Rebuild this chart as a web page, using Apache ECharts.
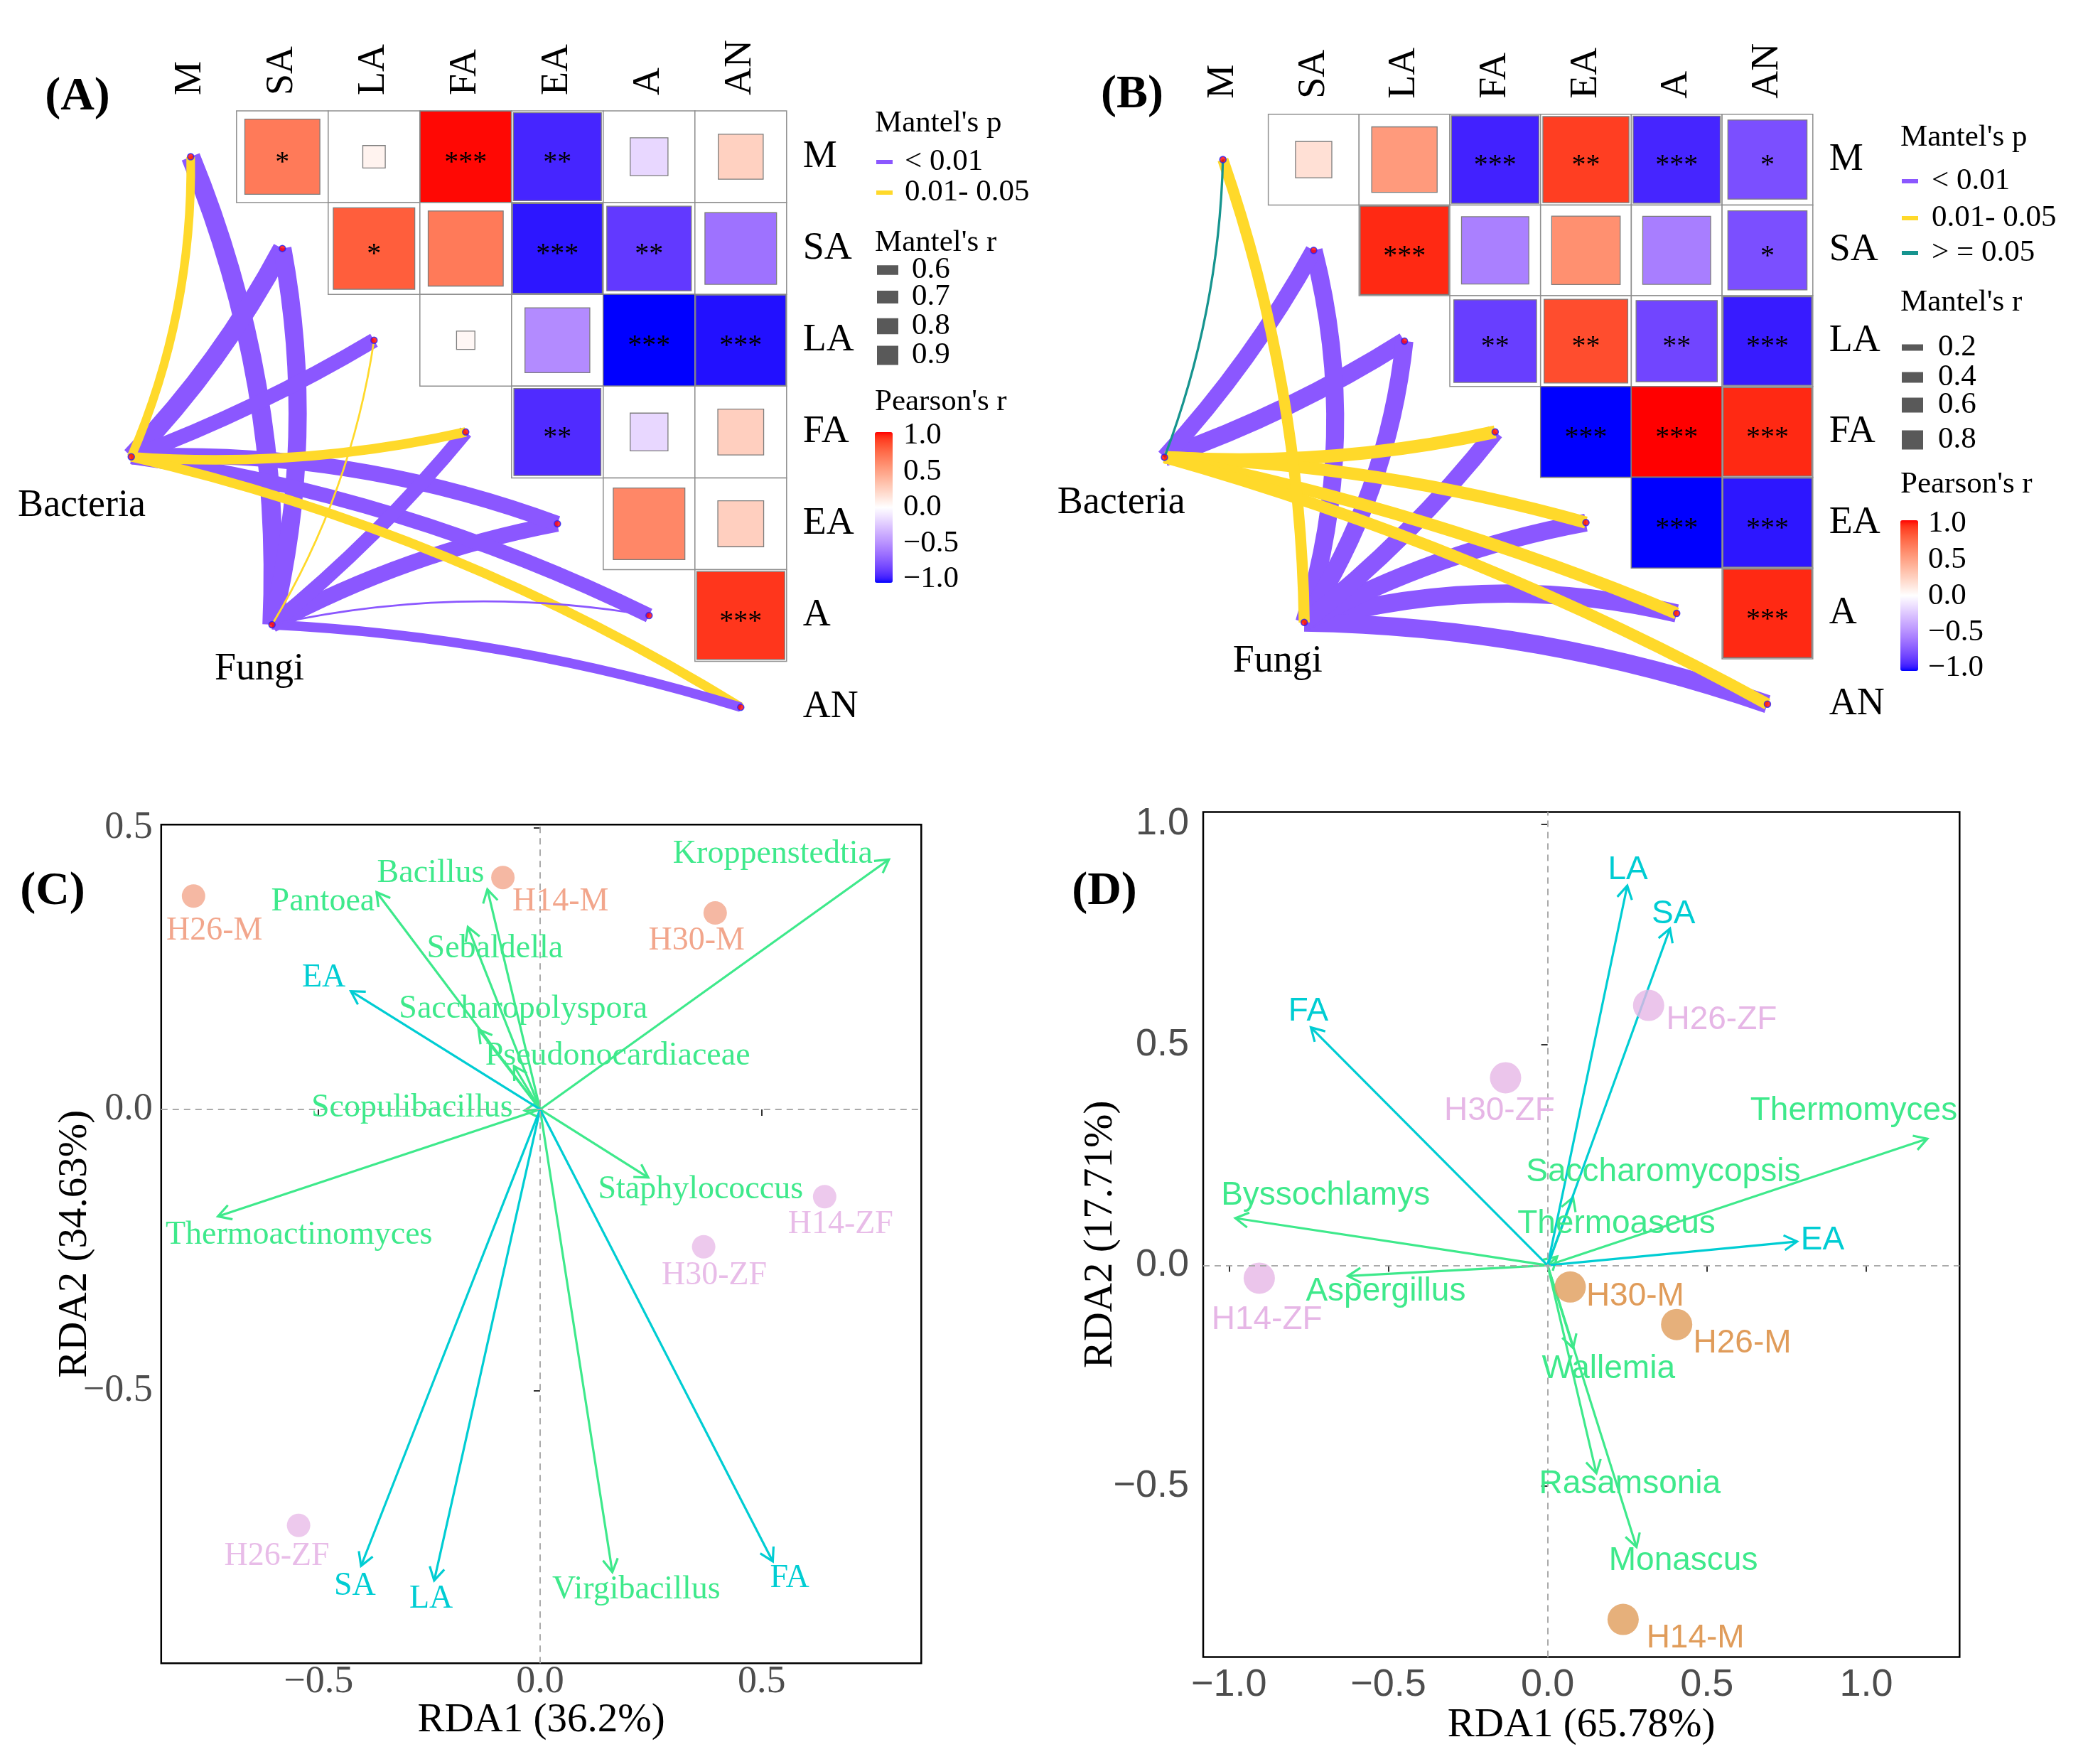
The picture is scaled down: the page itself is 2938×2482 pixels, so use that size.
<!DOCTYPE html>
<html>
<head>
<meta charset="utf-8">
<script src="https://cdn.jsdelivr.net/npm/echarts@6/dist/echarts.min.js"></script>
<style>
html,body{margin:0;padding:0;background:#fff;}
#chart{width:2938px;height:2482px;}
</style>
</head>
<body>
<div id="chart"></div>
<script>
// ---------------- DATA ----------------
const envVars = ['M', 'SA', 'LA', 'FA', 'EA', 'A', 'AN'];

// Pearson's r between environmental factors (upper triangle; row = envVars[i], col = envVars[j])
const pearsonA = [
  [null, 0.67, 0.06, 0.99, -0.92, -0.17, 0.24],
  [null, null, 0.79, 0.67, -0.96, -0.85, -0.61],
  [null, null, null, 0.04, -0.50, -1.00, -0.97],
  [null, null, null, null, -0.90, -0.17, 0.25],
  [null, null, null, null, null, 0.61, 0.25],
  [null, null, null, null, null, null, 0.92],
  [null, null, null, null, null, null, null]
];
const signifA = [
  ['', '*', '', '***', '**', '', ''],
  ['', '', '*', '', '***', '**', ''],
  ['', '', '', '', '', '***', '***'],
  ['', '', '', '', '**', '', ''],
  ['', '', '', '', '', '', ''],
  ['', '', '', '', '', '', '***'],
  ['', '', '', '', '', '', '']
];
const pearsonB = [
  [null, 0.16, 0.52, -0.93, 0.90, -0.92, -0.76],
  [null, null, 0.95, -0.55, 0.57, -0.56, -0.76],
  [null, null, null, -0.83, 0.85, -0.80, -0.95],
  [null, null, null, null, -1.00, 1.00, 0.95],
  [null, null, null, null, null, -1.00, -0.96],
  [null, null, null, null, null, null, 0.95],
  [null, null, null, null, null, null, null]
];
const signifB = [
  ['', '', '', '***', '**', '***', '*'],
  ['', '', '***', '', '', '', '*'],
  ['', '', '', '**', '**', '**', '***'],
  ['', '', '', '', '***', '***', '***'],
  ['', '', '', '', '', '***', '***'],
  ['', '', '', '', '', '', '***'],
  ['', '', '', '', '', '', '']
];

// Mantel tests (order of envVars)
const mantelA_bacteria_r = [0.57, 0.90, 0.76, 0.60, 0.79, 0.76, 0.60];
const mantelA_bacteria_p = ['0.01-0.05', '<0.01', '<0.01', '0.01-0.05', '<0.01', '<0.01', '0.01-0.05'];
const mantelA_fungi_r    = [0.90, 0.87, 0.36, 0.74, 0.80, 0.36, 0.60];
const mantelA_fungi_p    = ['<0.01', '<0.01', '0.01-0.05', '<0.01', '<0.01', '<0.01', '<0.01'];
const mantelB_bacteria_r = [0.01, 0.68, 0.75, 0.50, 0.47, 0.47, 0.45];
const mantelB_bacteria_p = ['>=0.05', '<0.01', '<0.01', '0.01-0.05', '0.01-0.05', '0.01-0.05', '0.01-0.05'];
const mantelB_fungi_r    = [0.42, 0.74, 0.74, 0.72, 0.74, 0.76, 0.76];
const mantelB_fungi_p    = ['0.01-0.05', '<0.01', '<0.01', '<0.01', '<0.01', '<0.01', '<0.01'];

const mantelLegendA = [0.6, 0.7, 0.8, 0.9];
const mantelLegendB = [0.2, 0.4, 0.6, 0.8];
const pearsonTicks = [1.0, 0.5, 0.0, -0.5, -1.0];

// Panel C (bacteria RDA)
const sampleNamesC = ['H26-M', 'H14-M', 'H30-M', 'H14-ZF', 'H30-ZF', 'H26-ZF'];
const sampleGroupC = ['M', 'M', 'M', 'ZF', 'ZF', 'ZF'];
const rda1C = [-0.782, -0.084, 0.395, 0.642, 0.369, -0.545];
const rda2C = [0.379, 0.412, 0.349, -0.155, -0.244, -0.739];
const envNamesC = ['EA', 'SA', 'LA', 'FA'];
const envRda1C = [-0.427, -0.404, -0.239, 0.525];
const envRda2C = [0.210, -0.811, -0.837, -0.803];
const speciesNamesC = ['Kroppenstedtia', 'Pantoea', 'Bacillus', 'Sebaldella', 'Saccharopolyspora',
  'Pseudonocardiaceae', 'Scopulibacillus', 'Thermoactinomyces', 'Staphylococcus', 'Virgibacillus'];
const speciesRda1C = [0.787, -0.369, -0.119, -0.163, -0.139, -0.059, -0.035, -0.727, 0.244, 0.163];
const speciesRda2C = [0.444, 0.386, 0.391, 0.324, 0.142, 0.077, -0.002, -0.190, -0.121, -0.822];
const ticksC = [-0.5, 0.0, 0.5];

// Panel D (fungi RDA)
const sampleNamesD = ['H26-ZF', 'H30-ZF', 'H14-ZF', 'H30-M', 'H26-M', 'H14-M'];
const sampleGroupD = ['ZF', 'ZF', 'ZF', 'M', 'M', 'M'];
const rda1D = [0.317, -0.132, -0.905, 0.071, 0.405, 0.237];
const rda2D = [0.589, 0.425, -0.029, -0.049, -0.134, -0.802];
const envNamesD = ['LA', 'SA', 'FA', 'EA'];
const envRda1D = [0.250, 0.384, -0.743, 0.783];
const envRda2D = [0.860, 0.763, 0.539, 0.054];
const speciesNamesD = ['Thermomyces', 'Saccharomycopsis', 'Thermoascus', 'Byssochlamys', 'Aspergillus',
  'Wallemia', 'Rasamsonia', 'Monascus'];
const speciesRda1D = [1.192, 0.080, 0.030, -0.980, -0.627, 0.080, 0.153, 0.279];
const speciesRda2D = [0.287, 0.154, 0.020, 0.107, -0.024, -0.187, -0.471, -0.638];
const ticksDx = [-1.0, -0.5, 0.0, 0.5, 1.0];
const ticksDy = [-0.5, 0.0, 0.5, 1.0];

// ---------------- LAYOUT / STYLE (not data) ----------------
const SERIF = '"Liberation Serif","DejaVu Serif","Times New Roman",serif';
const SANS = '"Liberation Sans",Arial,"DejaVu Sans",sans-serif';
const pColors = {'<0.01': '#8B57FF', '0.01-0.05': '#FFD92A', '>=0.05': '#16948F'};
const groupColorC = {M: '#F2A68C', ZF: '#E8BCE8'};
const groupColorD = {M: '#E09C5A', ZF: '#E6B6E6'};
const envColor = '#00CDD3';
const specColor = '#3EE98B';

// node positions in the correlation-grid units (column/row index space)
const nodePosA = {Bacteria: [-0.648, 3.27], Fungi: [0.887, 5.10]};
const nodePosB = {Bacteria: [-0.644, 3.28], Fungi: [0.896, 5.10]};
const nodeLabelA = {Bacteria: [-1.188, 3.807], Fungi: [0.749, 5.589]};
const nodeLabelB = {Bacteria: [-1.12, 3.785], Fungi: [0.603, 5.531]};
const curvA_bact = [-0.107, -0.07, -0.045, -0.074, 0.10, 0.08, 0.082];
const curvA_fungi = [-0.11, -0.107, -0.10, -0.05, 0.077, 0.098, 0.063];
const curvB_bact = [-0.085, -0.06, -0.056, -0.07, 0.06, 0.05, 0.057];
const curvB_fungi = [-0.08, -0.14, -0.12, -0.06, 0.08, 0.13, 0.08];

// label anchors (data coordinates) for RDA text
const sampleLabelC = [[-0.735, 0.317], [0.046, 0.369], [0.353, 0.299], [0.678, -0.205], [0.393, -0.296], [-0.594, -0.794]];
const envLabelC = [[-0.488, 0.234], [-0.418, -0.847], [-0.246, -0.870], [0.563, -0.833]];
const speciesLabelC = [[0.525, 0.453], [-0.490, 0.369], [-0.247, 0.419], [-0.102, 0.285], [-0.038, 0.178],
  [0.175, 0.095], [-0.289, 0.002], [-0.544, -0.224], [0.362, -0.143], [0.217, -0.853]];
const sampleLabelD = [[0.546, 0.556], [-0.151, 0.350], [-0.881, -0.124], [0.275, -0.070], [0.611, -0.177], [0.464, -0.845]];
const envLabelD = [[0.252, 0.896], [0.395, 0.796], [-0.751, 0.575], [0.863, 0.057]];
const speciesLabelD = [[0.961, 0.350], [0.363, 0.211], [0.216, 0.093], [-0.697, 0.158], [-0.508, -0.060],
  [0.191, -0.235], [0.258, -0.495], [0.426, -0.670]];

function widthA(r) { return Math.max(2.5, 45 * r - 13.5); }
function widthB(r) { return Math.max(2.5, 3 + 30 * r); }

// ---- Lab colour interpolation (blue - white - red, like ggplot gradient2) ----
function s2l(c) { c /= 255; return c <= 0.04045 ? c / 12.92 : Math.pow((c + 0.055) / 1.055, 2.4); }
function l2s(c) { c = c <= 0.0031308 ? 12.92 * c : 1.055 * Math.pow(c, 1 / 2.4) - 0.055; return Math.round(Math.max(0, Math.min(1, c)) * 255); }
function rgb2lab(rgb) {
  const R = s2l(rgb[0]), G = s2l(rgb[1]), B = s2l(rgb[2]);
  const X = (0.4124 * R + 0.3576 * G + 0.1805 * B) / 0.95047;
  const Y = (0.2126 * R + 0.7152 * G + 0.0722 * B);
  const Z = (0.0193 * R + 0.1192 * G + 0.9505 * B) / 1.08883;
  const f = t => t > 0.008856 ? Math.cbrt(t) : (7.787 * t + 16 / 116);
  const fx = f(X), fy = f(Y), fz = f(Z);
  return [116 * fy - 16, 500 * (fx - fy), 200 * (fy - fz)];
}
function lab2rgb(lab) {
  const fy = (lab[0] + 16) / 116, fx = fy + lab[1] / 500, fz = fy - lab[2] / 200;
  const fi = t => t * t * t > 0.008856 ? t * t * t : (t - 16 / 116) / 7.787;
  const X = fi(fx) * 0.95047, Y = fi(fy), Z = fi(fz) * 1.08883;
  const R = 3.2406 * X - 1.5372 * Y - 0.4986 * Z;
  const G = -0.9689 * X + 1.8758 * Y + 0.0415 * Z;
  const B = 0.0557 * X - 0.2040 * Y + 1.0570 * Z;
  return 'rgb(' + l2s(R) + ',' + l2s(G) + ',' + l2s(B) + ')';
}
const labBlue = rgb2lab([0, 0, 255]), labWhite = rgb2lab([255, 255, 255]), labRed = rgb2lab([255, 0, 0]);
const gradientStops = [];
for (let k = 0; k <= 40; k++) {
  const v = -1 + k / 20;
  let a, b, t;
  if (v < 0) { a = labBlue; b = labWhite; t = v + 1; } else { a = labWhite; b = labRed; t = v; }
  gradientStops.push(lab2rgb([a[0] + (b[0] - a[0]) * t, a[1] + (b[1] - a[1]) * t, a[2] + (b[2] - a[2]) * t]));
}

// ---------------- builders ----------------
function cellData(mat) {
  const out = [];
  for (let i = 0; i < mat.length; i++) for (let j = 0; j < mat[i].length; j++) {
    if (mat[i][j] !== null) out.push([j, i, mat[i][j]]);
  }
  return out;
}
function cellRenderer(sig) {
  return function (params, api) {
    const x = api.value(0), y = api.value(1), r = api.value(2);
    const c = api.coord([x, y]);
    const sz = api.size([1, 1]);
    const w = sz[0], h = sz[1];
    const f = Math.sqrt(Math.min(1, Math.abs(r)));
    const iw = w * f, ih = h * f;
    const s = sig[y][x];
    const children = [
      {type: 'rect', shape: {x: c[0] - w / 2, y: c[1] - h / 2, width: w, height: h},
        style: {fill: '#ffffff', stroke: '#8f8f8f', lineWidth: 1.5}},
      {type: 'rect', shape: {x: c[0] - iw / 2, y: c[1] - ih / 2, width: iw, height: ih},
        style: {fill: api.visual('color'), stroke: '#7d7d7d', lineWidth: 1.3}}
    ];
    if (s) children.push({type: 'text', style: {text: s, x: c[0], y: c[1] + 9, fill: '#000',
      font: '40px ' + SERIF, align: 'center', verticalAlign: 'middle', textAlign: 'center', textVerticalAlign: 'middle'}});
    return {type: 'group', children: children};
  };
}
function linkData(nodes, bR, bP, fR, fP, cB, cF, wfn) {
  const out = [];
  envVars.forEach(function (v, i) {
    out.push({coords: [nodes.Bacteria, [i, i]], lineStyle: {width: wfn(bR[i]), color: pColors[bP[i]], curveness: cB[i]}});
    out.push({coords: [nodes.Fungi, [i, i]], lineStyle: {width: wfn(fR[i]), color: pColors[fP[i]], curveness: cF[i]}});
  });
  out.sort((a, b) => b.lineStyle.width - a.lineStyle.width);
  return out;
}
function nodeDots(nodes) {
  const pts = [nodes.Bacteria, nodes.Fungi];
  envVars.forEach((v, i) => pts.push([i, i]));
  return pts;
}
function arrowRenderer(color) {
  return function (params, api) {
    const o = api.coord([0, 0]);
    const e = api.coord([api.value(0), api.value(1)]);
    const ang = Math.atan2(e[1] - o[1], e[0] - o[0]);
    const L = 21, a = Math.PI / 6;
    const h1 = [e[0] - L * Math.cos(ang - a), e[1] - L * Math.sin(ang - a)];
    const h2 = [e[0] - L * Math.cos(ang + a), e[1] - L * Math.sin(ang + a)];
    return {type: 'group', children: [
      {type: 'line', shape: {x1: o[0], y1: o[1], x2: e[0], y2: e[1]}, style: {stroke: color, lineWidth: 3.2}},
      {type: 'polyline', shape: {points: [h1, e, h2]}, style: {stroke: color, lineWidth: 3.2, fill: null}}
    ]};
  };
}
function zip(xs, ys) { return xs.map((x, i) => [x, ys[i]]); }
// text labels drawn through the axes (custom series)
function textSeries(xi, yi, names, anchors, colors, family, size) {
  return {
    type: 'custom', xAxisIndex: xi, yAxisIndex: yi, silent: true, z: 6,
    data: anchors.map((a, i) => [a[0], a[1], i]),
    renderItem: function (params, api) {
      const p = api.coord([api.value(0), api.value(1)]);
      const i = api.value(2);
      return {type: 'text', style: {text: names[i], x: p[0], y: p[1],
        fill: Array.isArray(colors) ? colors[i] : colors, font: size + 'px ' + family,
        align: 'center', verticalAlign: 'middle', textAlign: 'center', textVerticalAlign: 'middle'}};
    }
  };
}
function fmtTick(v) { return (v < 0 ? '\u2212' : '') + Math.abs(v).toFixed(1); }

// ---------------- graphic legends ----------------
const graphics = [];
function gText(txt, x, y, size, opts) {
  opts = opts || {};
  graphics.push({type: 'text', x: x, y: y, silent: true,
    style: {text: txt, font: (opts.bold ? 'bold ' : '') + size + 'px ' + (opts.family || SERIF),
      fill: opts.fill || '#000', align: opts.align || 'left', verticalAlign: 'middle',
      textAlign: opts.align || 'left', textVerticalAlign: 'middle'}});
}
function gLine(x1, y, x2, color, w) {
  graphics.push({type: 'line', silent: true, shape: {x1: x1, y1: y, x2: x2, y2: y}, style: {stroke: color, lineWidth: w}});
}
function gRect(x, yc, w, h, color) {
  graphics.push({type: 'rect', silent: true, shape: {x: x, y: yc - h / 2, width: w, height: h}, style: {fill: color}});
}
gText('(A)', 109, 137, 66, {bold: true, align: 'center'});
gText('(B)', 1593, 134, 66, {bold: true, align: 'center'});
gText('(C)', 74, 1255, 66, {bold: true, align: 'center'});
gText('(D)', 1554, 1255, 66, {bold: true, align: 'center'});

// legend A
gText("Mantel's p", 1231, 174, 43);
gLine(1233, 228, 1256, pColors['<0.01'], 6); gText('< 0.01', 1273, 228, 43);
gLine(1233, 271, 1256, pColors['0.01-0.05'], 6); gText('0.01- 0.05', 1273, 271, 43);
gText("Mantel's r", 1231, 342, 43);
const legAy = [380, 418, 459, 500];
mantelLegendA.forEach((r, i) => { gRect(1234, legAy[i], 30, widthA(r), '#595959'); gText(r.toFixed(1), 1283, legAy[i], 43); });
gText("Pearson's r", 1231, 566, 43);
pearsonTicks.forEach(v => gText(fmtTick(v), 1271, 613 + (1 - v) * 101, 43));

// legend B
gText("Mantel's p", 2674, 194, 43);
gLine(2676, 255, 2699, pColors['<0.01'], 6); gText('< 0.01', 2718, 255, 43);
gLine(2676, 307, 2699, pColors['0.01-0.05'], 6); gText('0.01- 0.05', 2718, 307, 43);
gLine(2676, 356, 2699, pColors['>=0.05'], 6); gText('> = 0.05', 2718, 356, 43);
gText("Mantel's r", 2674, 426, 43);
const legBy = [489, 531, 570, 619];
mantelLegendB.forEach((r, i) => { gRect(2676, legBy[i], 30, widthB(r), '#595959'); gText(r.toFixed(1), 2727, legBy[i], 43); });
gText("Pearson's r", 2674, 682, 43);
pearsonTicks.forEach(v => gText(fmtTick(v), 2713, 737 + (1 - v) * 101.5, 43));

// ---------------- option ----------------
const hiddenVal = (grid, min, max, inverse) => ({type: 'value', gridIndex: grid, min: min, max: max, show: false, inverse: !!inverse});
const corrTopAxis = (grid) => ({type: 'category', gridIndex: grid, position: 'top', data: [''].concat(envVars),
  boundaryGap: true, axisLine: {show: false}, axisTick: {show: false}, splitLine: {show: false},
  axisLabel: {interval: 0, rotate: -90, margin: 22, fontSize: 54, fontFamily: SERIF, color: '#000'}});
const corrRightAxis = (grid) => ({type: 'category', gridIndex: grid, position: 'right', inverse: true, data: envVars,
  boundaryGap: true, axisLine: {show: false}, axisTick: {show: false}, splitLine: {show: false},
  axisLabel: {interval: 0, margin: 23, fontSize: 54, fontFamily: SERIF, color: '#000', align: 'left'}});
function rdaAxis(grid, min, max, ticks, name, gap, family, tickSize, margin) {
  return {type: 'value', gridIndex: grid, min: min, max: max, name: name, nameLocation: 'middle', nameGap: gap,
    nameMoveOverlap: false,
    nameTextStyle: {fontFamily: SERIF, fontSize: 57, color: '#000'},
    axisLine: {show: false}, splitLine: {show: false},
    axisTick: {show: true, customValues: ticks, length: 9, lineStyle: {color: '#333', width: 2}},
    axisLabel: {customValues: ticks, formatter: fmtTick, fontFamily: family, fontSize: tickSize, color: '#4D4D4D', margin: margin}};
}

const option = {
  backgroundColor: '#ffffff',
  animation: false,
  graphic: {elements: graphics},
  grid: [
    {left: 74.8, top: 156, width: 1032, height: 903.7, show: false},
    {left: 1529.2, top: 160.7, width: 1021.6, height: 893.9, show: false},
    {left: 226.8, top: 1160.2, width: 1069.5, height: 1180.1, show: true, borderColor: '#000', borderWidth: 2.5, backgroundColor: 'transparent'},
    {left: 1693, top: 1142.5, width: 1064.3, height: 1188.9, show: true, borderColor: '#000', borderWidth: 2.5, backgroundColor: 'transparent'}
  ],
  xAxis: [
    hiddenVal(0, -1.5, 6.5), corrTopAxis(0),
    hiddenVal(1, -1.5, 6.5), corrTopAxis(1),
    rdaAxis(2, -0.855, 0.86, ticksC, 'RDA1 (36.2%)', 52, SERIF, 54, 0),
    rdaAxis(3, -1.081, 1.293, ticksDx, 'RDA1 (65.78%)', 68, SANS, 54, 13)
  ],
  yAxis: [
    hiddenVal(0, -0.5, 6.5, true), corrRightAxis(0),
    hiddenVal(1, -0.5, 6.5, true), corrRightAxis(1),
    rdaAxis(2, -0.984, 0.506, ticksC, 'RDA2 (34.63%)', 92, SERIF, 54, 12),
    rdaAxis(3, -0.887, 1.027, ticksDy, 'RDA2 (17.71%)', 115, SANS, 54, 20)
  ],
  visualMap: [
    {type: 'continuous', seriesIndex: 0, dimension: 2, min: -1, max: 1, inRange: {color: gradientStops},
      calculable: false, hoverLink: false, left: 1231, top: 608, itemWidth: 25, itemHeight: 212, padding: 0, text: null, orient: 'vertical'},
    {type: 'continuous', seriesIndex: 1, dimension: 2, min: -1, max: 1, inRange: {color: gradientStops},
      calculable: false, hoverLink: false, left: 2674, top: 732, itemWidth: 25, itemHeight: 212, padding: 0, text: null, orient: 'vertical'}
  ],
  series: [
    {type: 'custom', xAxisIndex: 0, yAxisIndex: 0, data: cellData(pearsonA), renderItem: cellRenderer(signifA), silent: true, z: 3},
    {type: 'custom', xAxisIndex: 2, yAxisIndex: 2, data: cellData(pearsonB), renderItem: cellRenderer(signifB), silent: true, z: 3},
    {type: 'lines', coordinateSystem: 'cartesian2d', xAxisIndex: 0, yAxisIndex: 0, silent: true, z: 2,
      lineStyle: {opacity: 1, cap: 'butt'},
      data: linkData(nodePosA, mantelA_bacteria_r, mantelA_bacteria_p, mantelA_fungi_r, mantelA_fungi_p, curvA_bact, curvA_fungi, widthA)},
    {type: 'lines', coordinateSystem: 'cartesian2d', xAxisIndex: 2, yAxisIndex: 2, silent: true, z: 2,
      lineStyle: {opacity: 1, cap: 'butt'},
      data: linkData(nodePosB, mantelB_bacteria_r, mantelB_bacteria_p, mantelB_fungi_r, mantelB_fungi_p, curvB_bact, curvB_fungi, widthB)},
    {type: 'scatter', xAxisIndex: 0, yAxisIndex: 0, silent: true, z: 4, symbolSize: 9,
      itemStyle: {color: '#FF0000', borderColor: '#2222FF', borderWidth: 1.5}, data: nodeDots(nodePosA)},
    {type: 'scatter', xAxisIndex: 2, yAxisIndex: 2, silent: true, z: 4, symbolSize: 9,
      itemStyle: {color: '#FF0000', borderColor: '#2222FF', borderWidth: 1.5}, data: nodeDots(nodePosB)},
    textSeries(0, 0, ['Bacteria', 'Fungi'], [nodeLabelA.Bacteria, nodeLabelA.Fungi], '#000', SERIF, 54),
    textSeries(2, 2, ['Bacteria', 'Fungi'], [nodeLabelB.Bacteria, nodeLabelB.Fungi], '#000', SERIF, 54),
    // Panel C
    {type: 'scatter', xAxisIndex: 4, yAxisIndex: 4, symbolSize: 0, data: [[0, 0]], silent: true, z: 1,
      markLine: {silent: true, symbol: 'none', label: {show: false},
        lineStyle: {color: '#AAAAAA', type: [9, 7], width: 2}, data: [{xAxis: 0}, {yAxis: 0}]}},
    {type: 'custom', xAxisIndex: 4, yAxisIndex: 4, silent: true, z: 3,
      data: zip(speciesRda1C, speciesRda2C), renderItem: arrowRenderer(specColor)},
    {type: 'custom', xAxisIndex: 4, yAxisIndex: 4, silent: true, z: 3,
      data: zip(envRda1C, envRda2C), renderItem: arrowRenderer(envColor)},
    {type: 'scatter', xAxisIndex: 4, yAxisIndex: 4, silent: true, z: 4, symbolSize: 33,
      data: rda1C.map((x, i) => ({value: [x, rda2C[i]], itemStyle: {color: groupColorC[sampleGroupC[i]]}}))},
    textSeries(4, 4, sampleNamesC, sampleLabelC, sampleGroupC.map(g => groupColorC[g]), SERIF, 46),
    textSeries(4, 4, envNamesC, envLabelC, envColor, SERIF, 46),
    textSeries(4, 4, speciesNamesC, speciesLabelC, specColor, SERIF, 46),
    // Panel D
    {type: 'scatter', xAxisIndex: 5, yAxisIndex: 5, symbolSize: 0, data: [[0, 0]], silent: true, z: 1,
      markLine: {silent: true, symbol: 'none', label: {show: false},
        lineStyle: {color: '#AAAAAA', type: [9, 7], width: 2}, data: [{xAxis: 0}, {yAxis: 0}]}},
    {type: 'custom', xAxisIndex: 5, yAxisIndex: 5, silent: true, z: 3,
      data: zip(speciesRda1D, speciesRda2D), renderItem: arrowRenderer(specColor)},
    {type: 'custom', xAxisIndex: 5, yAxisIndex: 5, silent: true, z: 3,
      data: zip(envRda1D, envRda2D), renderItem: arrowRenderer(envColor)},
    {type: 'scatter', xAxisIndex: 5, yAxisIndex: 5, silent: true, z: 4, symbolSize: 44,
      data: rda1D.map((x, i) => ({value: [x, rda2D[i]], itemStyle: {color: groupColorD[sampleGroupD[i]]}}))},
    textSeries(5, 5, sampleNamesD, sampleLabelD, sampleGroupD.map(g => groupColorD[g]), SANS, 46),
    textSeries(5, 5, envNamesD, envLabelD, envColor, SANS, 46),
    textSeries(5, 5, speciesNamesD, speciesLabelD, specColor, SANS, 46)
  ]
};

const chart = echarts.init(document.getElementById('chart'), null, {renderer: 'canvas', width: 2938, height: 2482});
chart.setOption(option);
</script>
</body>
</html>
